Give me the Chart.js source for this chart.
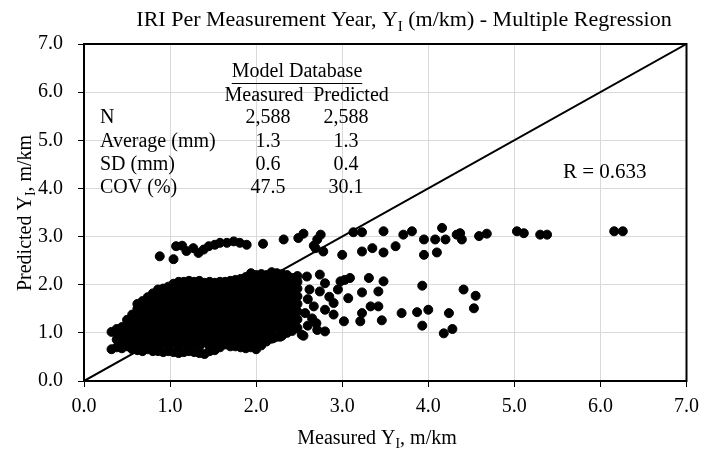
<!DOCTYPE html>
<html>
<head>
<meta charset="utf-8">
<script src="https://cdn.jsdelivr.net/npm/chart.js@4.4.0/dist/chart.umd.min.js"></script>
<style>
  html, body { margin: 0; padding: 0; background: #fff; }
</style>
</head>
<body>
<canvas id="chart" width="707" height="454"></canvas>
<script>
const FONT = '"Liberation Serif", "Times New Roman", serif';
const FS = 20;

const tickValues = [0, 1, 2, 3, 4, 5, 6, 7];

// dense part of the cloud, read column by column: [measured, [predicted, ...]]
const cloudColumns = [
  [0.32, [0.66, 1.02]],
  [0.38, [0.70, 0.86, 1.00, 1.08]],
  [0.44, [0.68, 0.82, 0.96, 1.12]],
  [0.50, [0.72, 0.88, 1.04, 1.18, 1.27]],
  [0.56, [0.66, 0.80, 0.96, 1.12, 1.28, 1.38]],
  [0.62, [0.64, 0.74, 0.90, 1.04, 1.20, 1.36, 1.50, 1.60]],
  [0.68, [0.62, 0.80, 0.96, 1.12, 1.28, 1.44, 1.58, 1.66]],
  [0.74, [0.66, 0.72, 0.88, 1.04, 1.20, 1.36, 1.52, 1.68, 1.74]],
  [0.80, [0.62, 0.80, 0.96, 1.12, 1.28, 1.44, 1.60, 1.76, 1.82]],
  [0.86, [0.62, 0.72, 0.88, 1.04, 1.20, 1.36, 1.52, 1.68, 1.84, 1.90]],
  [0.92, [0.60, 0.80, 0.96, 1.12, 1.28, 1.44, 1.60, 1.76, 1.92]],
  [0.98, [0.62, 0.72, 0.88, 1.04, 1.20, 1.36, 1.52, 1.68, 1.84, 1.96]],
  [1.04, [0.60, 0.80, 0.96, 1.12, 1.28, 1.44, 1.60, 1.76, 1.92, 2.02]],
  [1.10, [0.58, 0.72, 0.88, 1.04, 1.20, 1.36, 1.52, 1.68, 1.84, 2.00, 2.06]],
  [1.16, [0.60, 0.80, 0.96, 1.12, 1.28, 1.44, 1.60, 1.76, 1.92, 2.06]],
  [1.22, [0.62, 0.72, 0.88, 1.04, 1.20, 1.36, 1.52, 1.68, 1.84, 2.00, 2.08]],
  [1.28, [0.60, 0.80, 0.96, 1.12, 1.28, 1.44, 1.60, 1.76, 1.92, 2.06]],
  [1.34, [0.58, 0.72, 0.88, 1.04, 1.20, 1.36, 1.52, 1.68, 1.84, 2.00, 2.08]],
  [1.40, [0.56, 0.80, 0.96, 1.12, 1.28, 1.44, 1.60, 1.76, 1.92, 2.04]],
  [1.46, [0.62, 0.72, 0.88, 1.04, 1.20, 1.36, 1.52, 1.68, 1.84, 2.00, 2.06]],
  [1.52, [0.64, 0.80, 0.96, 1.12, 1.28, 1.44, 1.60, 1.76, 1.92, 2.04]],
  [1.58, [0.70, 0.88, 1.04, 1.20, 1.36, 1.52, 1.68, 1.84, 2.00, 2.06]],
  [1.64, [0.76, 0.80, 0.96, 1.12, 1.28, 1.44, 1.60, 1.76, 1.92, 2.06]],
  [1.70, [0.72, 0.88, 1.04, 1.20, 1.36, 1.52, 1.68, 1.84, 2.00, 2.08]],
  [1.76, [0.72, 0.80, 0.96, 1.12, 1.28, 1.44, 1.60, 1.76, 1.92, 2.10]],
  [1.82, [0.70, 0.88, 1.04, 1.20, 1.36, 1.52, 1.68, 1.84, 2.00, 2.12]],
  [1.88, [0.68, 0.80, 0.96, 1.12, 1.28, 1.44, 1.60, 1.76, 1.92, 2.08, 2.16]],
  [1.94, [0.70, 0.88, 1.04, 1.20, 1.36, 1.52, 1.68, 1.84, 2.00, 2.16, 2.24]],
  [2.00, [0.66, 0.80, 0.96, 1.12, 1.28, 1.44, 1.60, 1.76, 1.92, 2.08, 2.20]],
  [2.06, [0.74, 0.88, 1.04, 1.20, 1.36, 1.52, 1.68, 1.84, 2.00, 2.16, 2.22]],
  [2.12, [0.82, 0.96, 1.12, 1.28, 1.44, 1.60, 1.76, 1.92, 2.08, 2.20]],
  [2.18, [0.88, 1.04, 1.20, 1.36, 1.52, 1.68, 1.84, 2.00, 2.16, 2.26]],
  [2.24, [0.92, 1.12, 1.28, 1.44, 1.60, 1.76, 1.92, 2.08, 2.24]],
  [2.30, [0.94, 1.04, 1.20, 1.36, 1.52, 1.68, 1.84, 2.00, 2.16, 2.22]],
  [2.36, [1.00, 1.12, 1.28, 1.44, 1.60, 1.76, 1.92, 2.08, 2.20]],
  [2.42, [1.04, 1.20, 1.36, 1.52, 1.68, 1.84, 2.00, 2.14]],
  [2.48, [1.10, 1.28, 1.44, 1.60, 1.76, 1.92, 2.06, 2.18]]
];

// band of predictions near 2.6 - 3.2
const upperBand = [
  [0.88, 2.59], [1.04, 2.53], [1.07, 2.80], [1.14, 2.81], [1.19, 2.70], [1.27, 2.76],
  [1.33, 2.66], [1.39, 2.73], [1.45, 2.80], [1.52, 2.83], [1.58, 2.87], [1.66, 2.87],
  [1.74, 2.90], [1.81, 2.87], [1.89, 2.83], [2.08, 2.85], [2.32, 2.94], [2.49, 2.97],
  [2.55, 3.06], [2.67, 2.81], [2.71, 2.94], [2.75, 3.04], [2.69, 2.76], [2.78, 2.69],
  [3.00, 2.62], [3.13, 3.09], [3.23, 3.09], [3.23, 2.69], [3.35, 2.76], [3.48, 3.11],
  [3.48, 2.67], [3.62, 2.80], [3.71, 3.04], [3.81, 3.11], [3.95, 2.94], [3.95, 2.62],
  [4.08, 2.94], [4.10, 2.67], [4.16, 3.18], [4.20, 2.94], [4.33, 3.04], [4.37, 3.07],
  [4.39, 2.94], [4.59, 3.01], [4.68, 3.06], [5.03, 3.11], [5.11, 3.07], [5.30, 3.04],
  [5.38, 3.04], [6.16, 3.11], [6.26, 3.11]
];

// sparse points right of the cloud
const scatterRight = [
  [2.20, 0.89], [2.28, 0.92], [2.53, 0.96], [2.55, 0.94], [2.57, 1.41], [2.59, 2.17],
  [2.60, 1.15], [2.60, 1.70], [2.62, 1.90], [2.65, 1.30], [2.67, 1.55], [2.70, 1.20],
  [2.71, 1.06], [2.74, 2.21], [2.74, 1.86], [2.80, 2.03], [2.80, 1.48], [2.80, 1.03],
  [2.85, 1.75], [2.90, 1.62], [2.90, 1.38], [2.95, 1.90], [2.98, 2.07], [3.02, 1.24],
  [3.03, 2.10], [3.07, 1.72], [3.09, 2.14], [3.21, 1.24], [3.23, 1.84], [3.23, 1.41],
  [3.31, 2.14], [3.33, 1.55], [3.42, 1.86], [3.42, 1.55], [3.46, 1.26], [3.48, 2.07],
  [3.69, 1.41], [3.87, 1.43], [3.93, 1.98], [3.93, 1.15], [4.00, 1.48], [4.18, 0.99],
  [4.24, 1.41], [4.28, 1.08], [4.41, 1.90], [4.53, 1.51], [4.55, 1.77]
];

const lineOfEquality = [0, 7];

const statsRows = ['N', 'Average (mm)', 'SD (mm)', 'COV (%)'];
const statsMeasured = ['2,588', '1.3', '0.6', '47.5'];
const statsPredicted = ['2,588', '1.3', '0.4', '30.1'];
const rLabel = 'R = 0.633';

const points = [];
cloudColumns.forEach(col => col[1].forEach(y => points.push({ x: col[0], y: y })));
upperBand.concat(scatterRight).forEach(p => points.push({ x: p[0], y: p[1] }));

// text with a subscript part, parts = [[text, isSub], ...]
function drawRich(ctx, parts, x, y, size, align) {
  let total = 0;
  parts.forEach(p => {
    ctx.font = (p[1] ? size * 0.68 : size) + 'px ' + FONT;
    total += ctx.measureText(p[0]).width;
  });
  let cx = align === 'center' ? x - total / 2 : x;
  ctx.textAlign = 'left';
  ctx.textBaseline = 'alphabetic';
  parts.forEach(p => {
    ctx.font = (p[1] ? size * 0.68 : size) + 'px ' + FONT;
    ctx.fillText(p[0], cx, p[1] ? y + size * 0.22 : y);
    cx += ctx.measureText(p[0]).width;
  });
}

const decor = {
  id: 'decor',
  afterDraw(chart) {
    const ctx = chart.ctx;
    const a = chart.chartArea;
    ctx.save();
    ctx.fillStyle = '#000';
    ctx.strokeStyle = '#000';
    ctx.lineWidth = 2;
    ctx.strokeRect(a.left, a.top, a.right - a.left, a.bottom - a.top);

    drawRich(ctx, [['IRI Per Measurement Year, Y', false], ['I', true], [' (m/km) - Multiple Regression', false]], 404, 26, 22, 'center');
    drawRich(ctx, [['Measured Y', false], ['I', true], [', m/km', false]], 377, 444, FS, 'center');

    ctx.save();
    ctx.translate(31, 213);
    ctx.rotate(-Math.PI / 2);
    drawRich(ctx, [['Predicted Y', false], ['I', true], [', m/km', false]], 0, 0, FS, 'center');
    ctx.restore();

    // stats table
    ctx.font = FS + 'px ' + FONT;
    ctx.textBaseline = 'middle';
    ctx.textAlign = 'center';
    ctx.fillText('Model Database', 297, 72);
    const w = ctx.measureText('Model Database').width;
    ctx.lineWidth = 1;
    ctx.beginPath();
    ctx.moveTo(297 - w / 2, 83.5);
    ctx.lineTo(297 + w / 2, 83.5);
    ctx.stroke();
    ctx.fillText('Measured', 264, 96);
    ctx.fillText('Predicted', 351, 96);
    statsRows.forEach((r, i) => {
      const y = 118 + i * 23.3;
      ctx.textAlign = 'left';
      ctx.fillText(r, 100, y);
      ctx.textAlign = 'center';
      ctx.fillText(statsMeasured[i], 268, y);
      ctx.fillText(statsPredicted[i], 346, y);
    });

    ctx.font = '21px ' + FONT;
    ctx.textAlign = 'left';
    ctx.fillText(rLabel, 563, 172);
    ctx.restore();
  }
};

const axisCommon = {
  type: 'linear',
  min: 0,
  max: 7,
  afterBuildTicks: s => { s.ticks = tickValues.map(v => ({ value: v })); },
  ticks: {
    color: '#000',
    font: { family: FONT, size: FS },
    callback: v => Number(v).toFixed(1)
  },
  grid: { color: '#d9d9d9', lineWidth: 1, tickColor: '#000', tickLength: 6, drawTicks: true },
  border: { display: false }
};

new Chart(document.getElementById('chart'), {
  data: {
    datasets: [
      {
        type: 'line',
        data: lineOfEquality.map(v => ({ x: v, y: v })),
        borderColor: '#000',
        borderWidth: 2,
        pointRadius: 0
      },
      {
        type: 'scatter',
        data: points,
        pointRadius: 4.5,
        backgroundColor: '#000',
        borderColor: '#000',
        borderWidth: 1
      }
    ]
  },
  options: {
    responsive: false,
    animation: false,
    devicePixelRatio: 1,
    layout: { padding: { top: 44, right: 20, left: 0, bottom: 0 } },
    plugins: { legend: { display: false }, tooltip: { enabled: false } },
    scales: {
      x: Object.assign({}, axisCommon, {
        position: 'bottom',
        ticks: Object.assign({}, axisCommon.ticks, { padding: 8 }),
        afterFit: s => { s.height = 73; }
      }),
      y: Object.assign({}, axisCommon, {
        position: 'left',
        ticks: Object.assign({}, axisCommon.ticks, { padding: 15 }),
        afterFit: s => { s.width = 84; }
      })
    }
  },
  plugins: [decor]
});
</script>
</body>
</html>
